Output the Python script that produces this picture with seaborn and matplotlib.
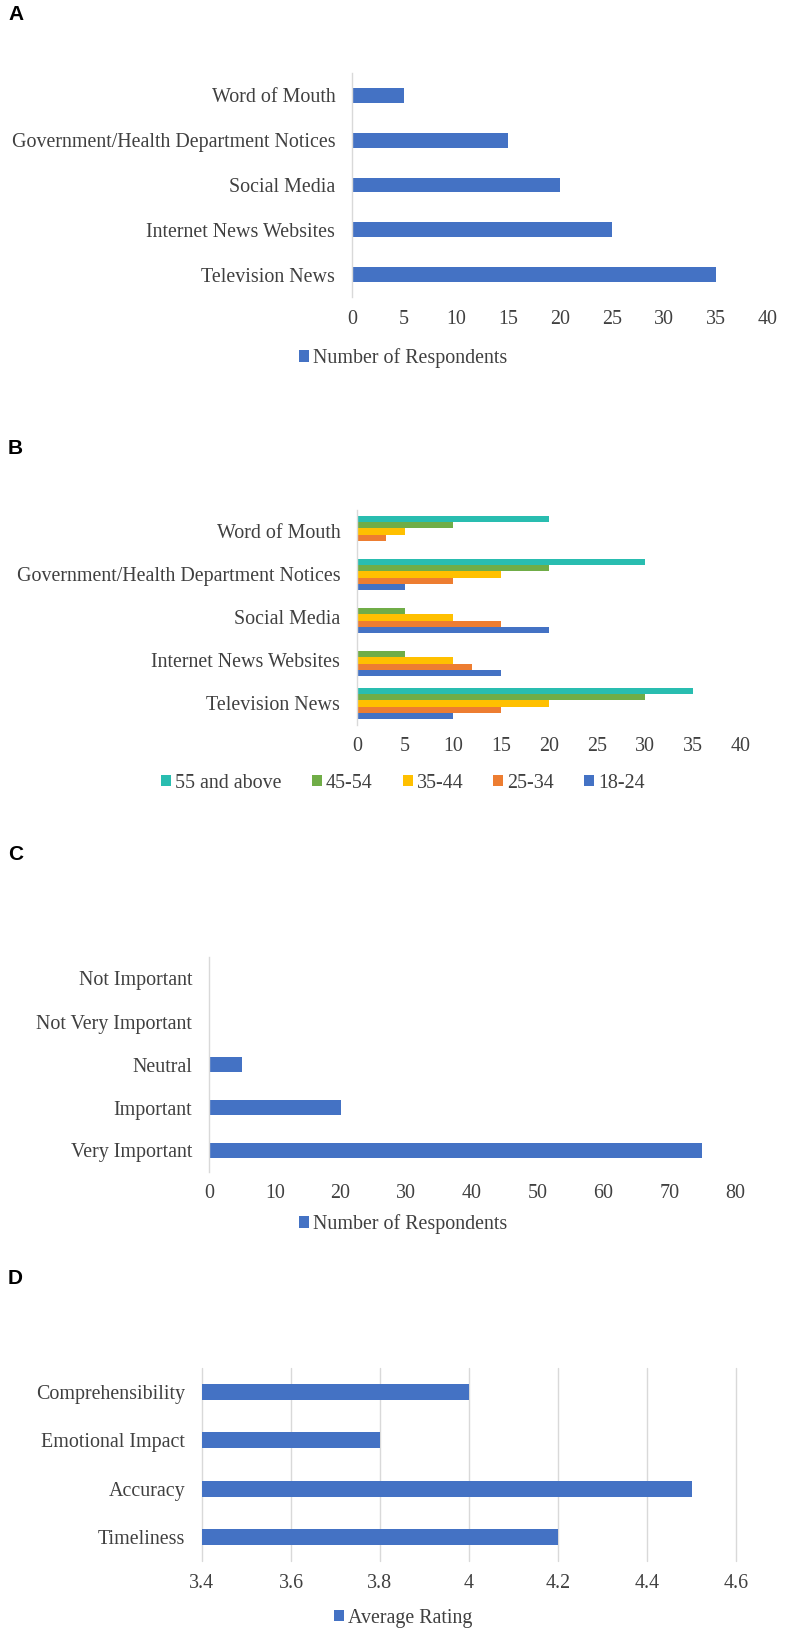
"""Four horizontal bar panels (A-D) on information sources and ratings."""

import matplotlib
matplotlib.use("Agg")
import matplotlib.pyplot as plt
from matplotlib.patches import Patch
import pandas as pd
import seaborn as sns

# ---- data -------------------------------------------------------------
sources = [
    "Word of Mouth",
    "Government/Health Department Notices",
    "Social Media",
    "Internet News Websites",
    "Television News",
]
source_counts = [5, 15, 20, 25, 35]

age_groups = ["55 and above", "45-54", "35-44", "25-34", "18-24"]
age_55_plus = [20, 30, 0, 0, 35]
age_45_54 = [10, 20, 5, 5, 30]
age_35_44 = [5, 15, 10, 10, 20]
age_25_34 = [3, 10, 15, 12, 15]
age_18_24 = [0, 5, 20, 15, 10]

importance_levels = [
    "Not Important",
    "Not Very Important",
    "Neutral",
    "Important",
    "Very Important",
]
importance_counts = [0, 0, 5, 20, 75]

aspects = ["Comprehensibility", "Emotional Impact", "Accuracy", "Timeliness"]
aspect_ratings = [4.0, 3.8, 4.5, 4.2]

# ---- style ------------------------------------------------------------
BLUE = "#4472C4"
AGE_COLORS = {
    "55 and above": "#29BDB0",
    "45-54": "#70AD47",
    "35-44": "#FFC000",
    "25-34": "#ED7D31",
    "18-24": "#4472C4",
}
GRID = "#D9D9D9"
TEXT = "#404040"
FS = 14.4

sns.set_theme(style="white")
plt.rcParams["font.family"] = ["Liberation Serif", "DejaVu Serif"]

W, H = 791, 1637
fig = plt.figure(figsize=(W / 100, H / 100), dpi=100)


def px_axes(left, right, top, bottom):
    return fig.add_axes(
        [left / W, 1 - bottom / H, (right - left) / W, (bottom - top) / H]
    )


def style_axes(ax, grid=False):
    for side in ["top", "right", "bottom"]:
        ax.spines[side].set_visible(False)
    ax.spines["left"].set_color(GRID)
    ax.spines["left"].set_linewidth(1.0)
    if grid:
        ax.spines["left"].set_visible(False)
        ax.xaxis.grid(True, color=GRID, linewidth=1.0)
        ax.set_axisbelow(True)
        for line in ax.get_xgridlines():
            line.set_clip_on(False)
    ax.tick_params(axis="both", length=0, labelsize=FS, labelcolor=TEXT)
    ax.tick_params(axis="y", pad=12)
    ax.tick_params(axis="x", pad=9)
    ax.set_xlabel("")
    ax.set_ylabel("")


def add_legend(labels, colors, y_px, x_px=403, ncol=1):
    handles = [Patch(facecolor=c, edgecolor="none", label=l) for l, c in zip(labels, colors)]
    fig.legend(
        handles=handles,
        loc="center",
        bbox_to_anchor=(x_px / W, 1 - y_px / H),
        ncol=ncol,
        frameon=False,
        fontsize=FS,
        handlelength=0.5,
        handleheight=0.5,
        handletextpad=0.2,
        columnspacing=1.5,
        labelcolor=TEXT,
    )


def panel_label(text, y_px):
    fig.text(
        8 / W, 1 - y_px / H, text,
        fontsize=15, fontweight="bold", family="Liberation Sans",
        va="center", ha="left", color="black",
    )


# ---- A ----------------------------------------------------------------
ax_a = px_axes(352, 768, 73, 297)
sns.barplot(x=source_counts, y=sources, orient="h", color=BLUE, saturation=1,
            width=0.33, linewidth=0, ax=ax_a)
ax_a.set_xlim(0, 40)
ax_a.set_xticks(range(0, 41, 5))
style_axes(ax_a)
add_legend(["Number of Respondents"], [BLUE], 358)
panel_label("A", 15)

# ---- B ----------------------------------------------------------------
df_age = pd.DataFrame({
    "source": sources * 5,
    "age": [g for g in age_groups for _ in sources],
    "count": age_55_plus + age_45_54 + age_35_44 + age_25_34 + age_18_24,
})
ax_b = px_axes(357, 741, 510, 725)
sns.barplot(data=df_age, x="count", y="source", hue="age", orient="h",
            hue_order=age_groups, palette=AGE_COLORS, order=sources,
            saturation=1, width=0.72, linewidth=0, legend=False, ax=ax_b)
ax_b.set_xlim(0, 40)
ax_b.set_xticks(range(0, 41, 5))
style_axes(ax_b)
add_legend(age_groups, [AGE_COLORS[g] for g in age_groups], 783, ncol=5)
panel_label("B", 448)

# ---- C ----------------------------------------------------------------
ax_c = px_axes(209, 735, 957, 1172)
sns.barplot(x=importance_counts, y=importance_levels, orient="h", color=BLUE,
            saturation=1, width=0.35, linewidth=0, ax=ax_c)
ax_c.set_xlim(0, 80)
ax_c.set_xticks(range(0, 81, 10))
style_axes(ax_c)
add_legend(["Number of Respondents"], [BLUE], 1224)
panel_label("C", 855)

# ---- D ----------------------------------------------------------------
ax_d = px_axes(202, 736, 1368, 1561)
sns.barplot(x=aspect_ratings, y=aspects, orient="h", color=BLUE,
            saturation=1, width=0.33, linewidth=0, ax=ax_d)
ax_d.set_xlim(3.4, 4.6)
ax_d.set_xticks([3.4, 3.6, 3.8, 4.0, 4.2, 4.4, 4.6])
ax_d.set_xticklabels(["3.4", "3.6", "3.8", "4", "4.2", "4.4", "4.6"])
style_axes(ax_d, grid=True)
add_legend(["Average Rating"], [BLUE], 1618)
panel_label("D", 1278)

fig.savefig("out.png", dpi=100)
plt.close(fig)
